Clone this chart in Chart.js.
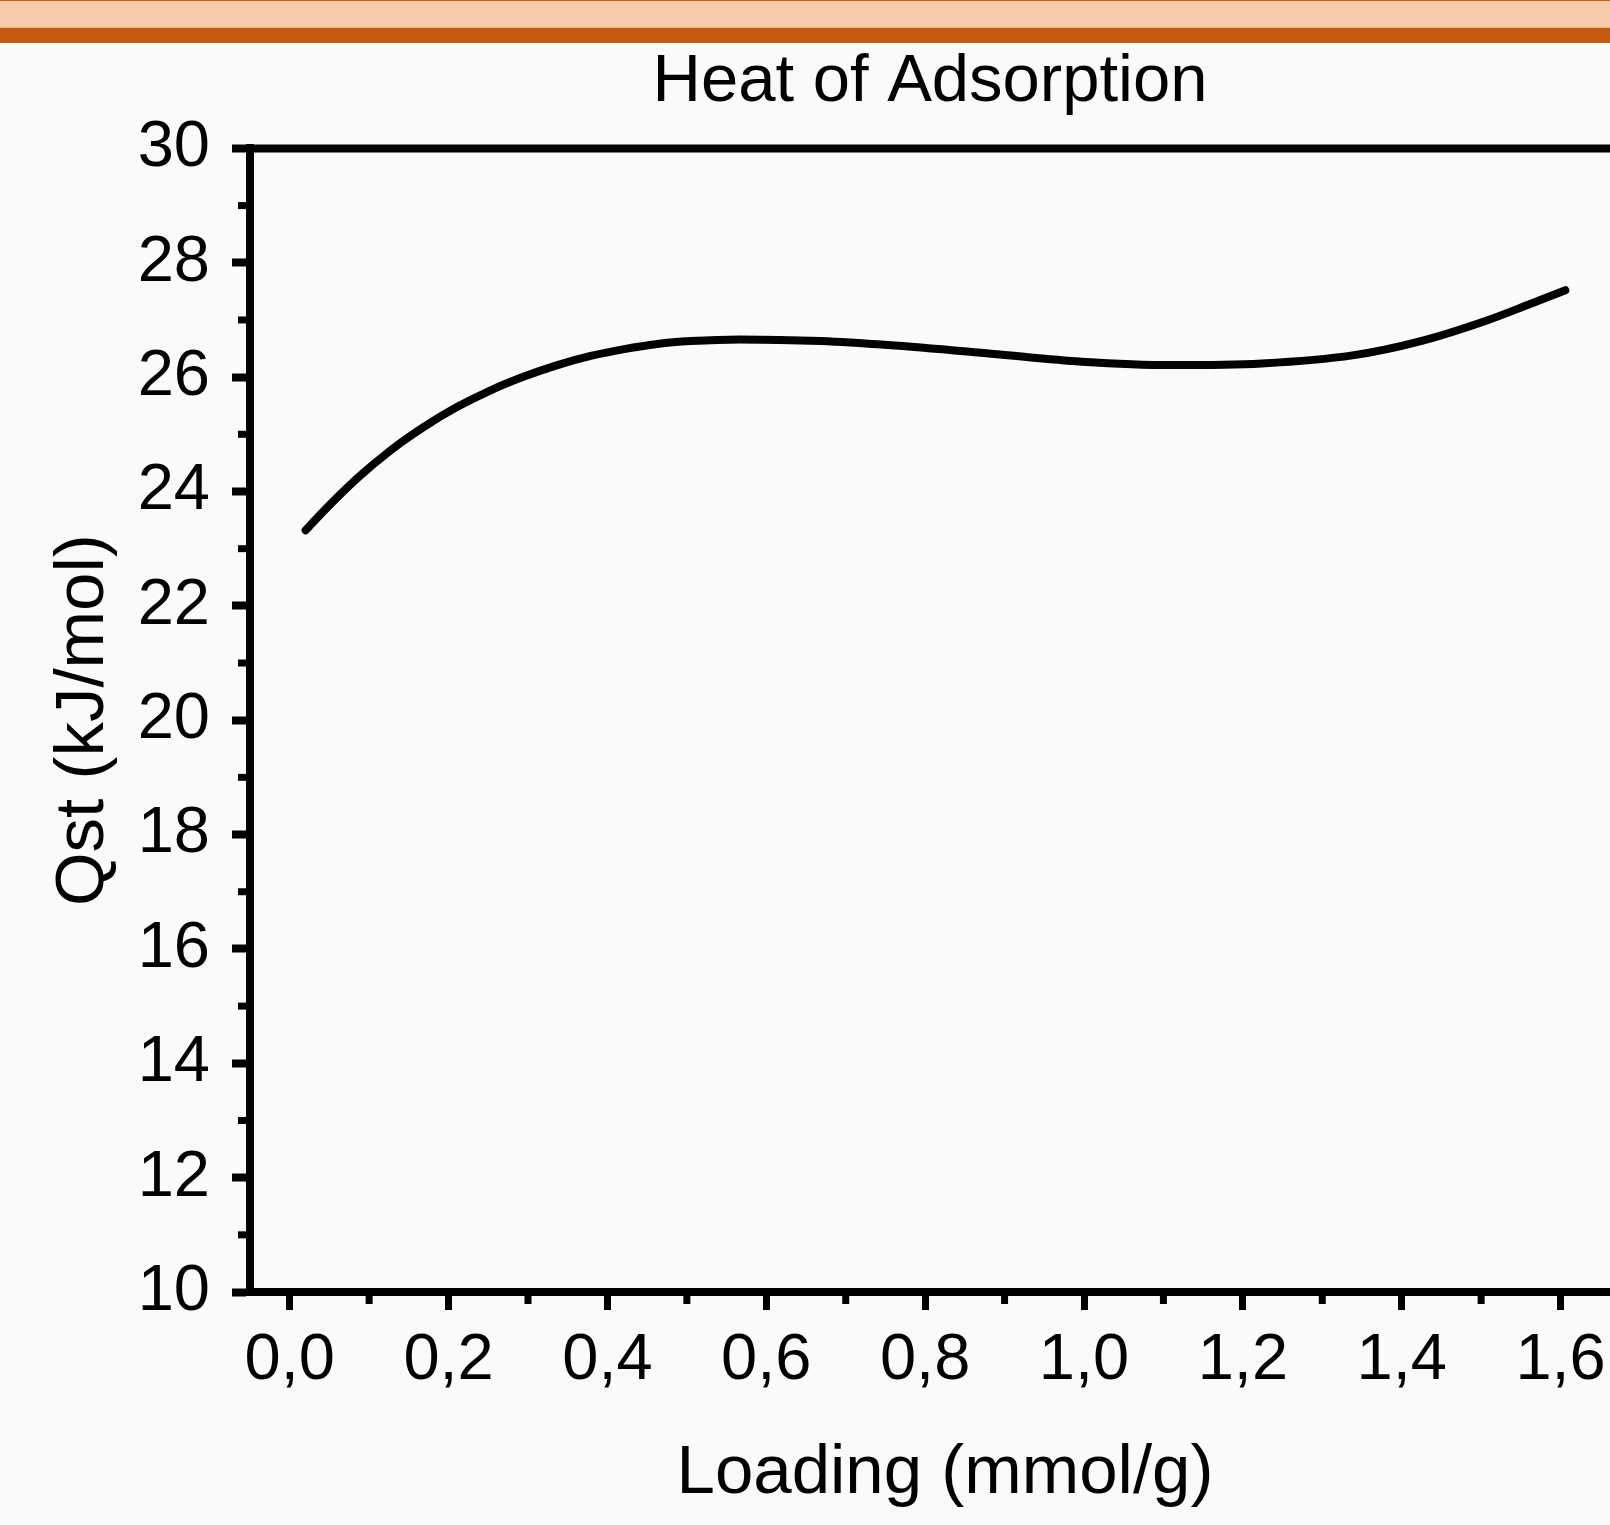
<!DOCTYPE html>
<html>
<head>
<meta charset="utf-8">
<script src="https://cdn.jsdelivr.net/npm/chart.js@4/dist/chart.umd.min.js"></script>
<style>
  html, body { margin: 0; padding: 0; width: 1610px; height: 1525px; overflow: hidden; background: #FAFAFA; }
  #c { position: absolute; left: 0; top: 0; }
  .band { position: absolute; left: 0; width: 1610px; }
</style>
</head>
<body>
<canvas id="c" width="1860" height="1525"></canvas>
<div class="band" style="top:0;height:1px;background:#C55A11"></div>
<div class="band" style="top:1px;height:26px;background:#F8CBAD"></div>
<div class="band" style="top:27px;height:1px;background:#F4B183"></div>
<div class="band" style="top:28px;height:15px;background:#C55A11"></div>
<div class="band" style="top:43px;height:4px;background:#FFFFFF"></div>
<script>
// ---- data ----
const loading = [0.020, 0.043, 0.085, 0.127, 0.169, 0.211, 0.253, 0.295, 0.337, 0.379, 0.421, 0.463, 0.505, 0.567, 0.669, 0.753, 0.883, 0.997, 1.111, 1.224, 1.338, 1.424, 1.509, 1.560, 1.606];
const qst     = [23.32, 23.66, 24.23, 24.72, 25.13, 25.48, 25.77, 26.01, 26.21, 26.37, 26.49, 26.58, 26.63, 26.66, 26.63, 26.56, 26.41, 26.27, 26.21, 26.24, 26.38, 26.63, 27.00, 27.27, 27.52];

const xMajorTicks = [0, 0.2, 0.4, 0.6, 0.8, 1.0, 1.2, 1.4, 1.6];
const xMinorTicks = [0.1, 0.3, 0.5, 0.7, 0.9, 1.1, 1.3, 1.5];
const yMajorTicks = [10, 12, 14, 16, 18, 20, 22, 24, 26, 28, 30];
const yMinorTicks = [11, 13, 15, 17, 19, 21, 23, 25, 27, 29];

const chartTitle = 'Heat of Adsorption';
const xTitle = 'Loading (mmol/g)';
const yTitle = 'Qst (kJ/mol)';

const FONT = "'Liberation Sans', Arial, Helvetica, sans-serif";
const AXW = 8;

const frame = {
  id: 'frame',
  afterDraw(chart) {
    const {ctx, chartArea: a, scales} = chart;
    ctx.save();
    ctx.strokeStyle = '#000';
    ctx.lineCap = 'butt';
    // top border
    ctx.lineWidth = AXW;
    ctx.beginPath();
    ctx.moveTo(a.left - AXW / 2, a.top);
    ctx.lineTo(a.right + AXW, a.top);
    ctx.stroke();
    // minor ticks
    ctx.lineWidth = 7;
    xMinorTicks.forEach(v => {
      const px = scales.x.getPixelForValue(v);
      ctx.beginPath();
      ctx.moveTo(px, a.bottom + AXW / 2);
      ctx.lineTo(px, a.bottom + AXW / 2 + 8);
      ctx.stroke();
    });
    yMinorTicks.forEach(v => {
      const py = scales.y.getPixelForValue(v);
      ctx.beginPath();
      ctx.moveTo(a.left - AXW / 2 + 0.5, py);
      ctx.lineTo(a.left - AXW / 2 - 8, py);
      ctx.stroke();
    });
    ctx.restore();
  }
};

new Chart(document.getElementById('c'), {
  type: 'line',
  data: {
    datasets: [{
      data: loading.map((x, i) => ({x, y: qst[i]})),
      borderColor: '#000',
      borderWidth: 8,
      pointRadius: 0,
      cubicInterpolationMode: 'monotone',
      borderCapStyle: 'round',
      borderJoinStyle: 'round',
      fill: false
    }]
  },
  options: {
    responsive: false,
    animation: false,
    devicePixelRatio: 1,
    layout: { padding: 0 },
    plugins: {
      legend: { display: false },
      tooltip: { enabled: false },
      title: {
        display: true,
        text: chartTitle,
        color: '#000',
        font: { family: FONT, size: 67, weight: 'normal' },
        padding: { top: 42, bottom: 26 }
      }
    },
    scales: {
      x: {
        type: 'linear',
        position: 'bottom',
        min: -0.05,
        max: 1.7,
        afterBuildTicks: s => { s.ticks = xMajorTicks.map(v => ({value: v})); },
        afterFit: s => { s.height = 233; },
        border: { display: true, color: '#000', width: AXW },
        grid: { display: true, drawOnChartArea: false, drawTicks: true, tickLength: 18, tickWidth: 7, tickColor: '#000' },
        ticks: {
          color: '#000',
          padding: 12,
          maxRotation: 0,
          autoSkip: false,
          font: { family: FONT, size: 65 },
          callback: v => Number(v).toFixed(1).replace('.', ',')
        },
        title: {
          display: true,
          text: xTitle,
          color: '#000',
          font: { family: FONT, size: 69 },
          padding: { top: 0, bottom: 10 }
        }
      },
      y: {
        type: 'linear',
        position: 'left',
        min: 10,
        max: 30,
        afterBuildTicks: s => { s.ticks = yMajorTicks.map(v => ({value: v})); },
        afterFit: s => { s.width = 250; },
        border: { display: true, color: '#000', width: AXW },
        grid: { display: true, drawOnChartArea: false, drawTicks: true, tickLength: 18, tickWidth: 8, tickColor: '#000' },
        ticks: {
          color: '#000',
          padding: 22,
          autoSkip: false,
          font: { family: FONT, size: 65 },
          callback: v => String(v)
        },
        title: {
          display: true,
          text: yTitle,
          color: '#000',
          font: { family: FONT, size: 69 },
          padding: { top: 43, bottom: 0 }
        }
      },
      y2: {
        type: 'linear',
        position: 'right',
        display: true,
        afterFit: s => { s.width = 220; },
        border: { display: false },
        grid: { display: false, drawTicks: false },
        ticks: { display: false }
      }
    }
  },
  plugins: [frame]
});
</script>
</body>
</html>
